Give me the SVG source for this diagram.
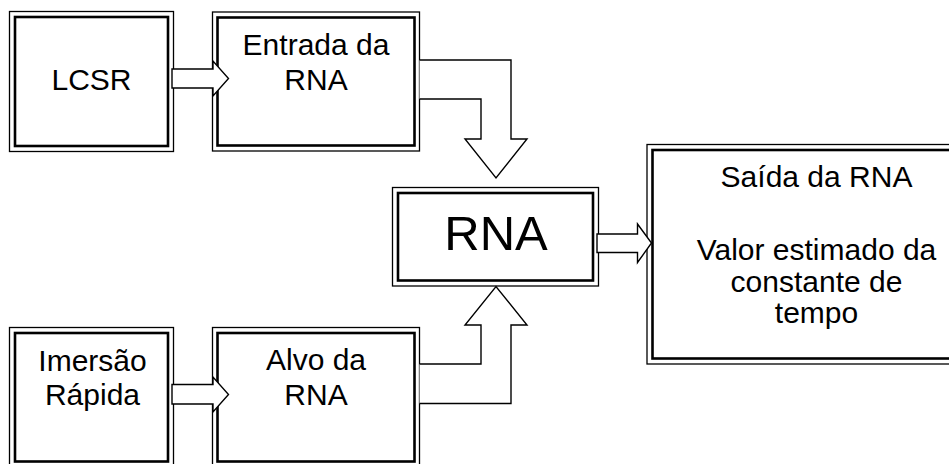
<svg xmlns="http://www.w3.org/2000/svg" width="949" height="464" viewBox="0 0 949 464">
  <style>
    .outer { fill: #fff; stroke: #000; stroke-width: 1.3; }
    .inner { fill: none; stroke: #000; stroke-width: 2.6; }
    .arrow { fill: #fff; stroke: #000; stroke-width: 1.4; stroke-linejoin: miter; }
    text { font-family: "Liberation Sans", Arial, sans-serif; font-size: 30px; fill: #000; text-anchor: middle; }
    .big { font-size: 49px; }
  </style>
  <rect width="949" height="464" fill="#fff"/>

  <!-- LCSR -->
  <g id="lcsr">
    <rect class="outer" x="9.5" y="11.5" width="164" height="140"/>
    <rect class="inner" x="15" y="17" width="153" height="129"/>
    <text x="91.5" y="90">LCSR</text>
  </g>

  <!-- Entrada da RNA -->
  <g id="entrada">
    <rect class="outer" x="212.5" y="12" width="207" height="139"/>
    <rect class="inner" x="217.5" y="17.5" width="197" height="128"/>
    <text x="316" y="55">Entrada da</text>
    <text x="316" y="90">RNA</text>
  </g>

  <!-- Imersão Rápida -->
  <g id="imersao">
    <rect class="outer" x="9.5" y="327.5" width="164" height="140"/>
    <rect class="inner" x="15" y="333" width="153" height="128.5"/>
    <text x="92.5" y="370.5">Imersão</text>
    <text x="92.5" y="405">Rápida</text>
  </g>

  <!-- Alvo da RNA -->
  <g id="alvo">
    <rect class="outer" x="212.5" y="327.5" width="207" height="140"/>
    <rect class="inner" x="217.5" y="333" width="197" height="128.5"/>
    <text x="316" y="370">Alvo da</text>
    <text x="316" y="404.5">RNA</text>
  </g>

  <!-- RNA -->
  <g id="rna">
    <rect class="outer" x="392.5" y="187.5" width="206" height="98.5"/>
    <rect class="inner" x="398" y="193" width="195" height="87.5"/>
    <text class="big" x="496" y="249.5">RNA</text>
  </g>

  <!-- Saída da RNA -->
  <g id="saida">
    <rect class="outer" x="647" y="144.5" width="310" height="219.5"/>
    <rect class="inner" x="652.5" y="150" width="300" height="208.5"/>
    <text x="816.5" y="187">Saída da RNA</text>
    <text x="816.5" y="259.5">Valor estimado da</text>
    <text x="816.5" y="292">constante de</text>
    <text x="816.5" y="323">tempo</text>
  </g>

  <!-- connectors: block arrows -->
  <g id="connectors">
    <path class="arrow" d="M172,69 H213 V61 L228.5,78.5 L213,96 V88 H172 Z"/>
    <path class="arrow" d="M172,384.5 H213 V377 L228.5,394.5 L213,412 V404 H172 Z"/>
    <path class="arrow" d="M419.5,60 H511 V139 H527 L496,178 L465,139 H481 V99 H419.5"/>
    <path class="arrow" d="M419.5,403.5 H511 V325 H527 L496,286.5 L465,325 H481 V364 H419.5"/>
    <path class="arrow" d="M597,234 H637.5 V224 L651.5,243 L637.5,262.5 V252.5 H597 Z"/>
  </g>
</svg>
